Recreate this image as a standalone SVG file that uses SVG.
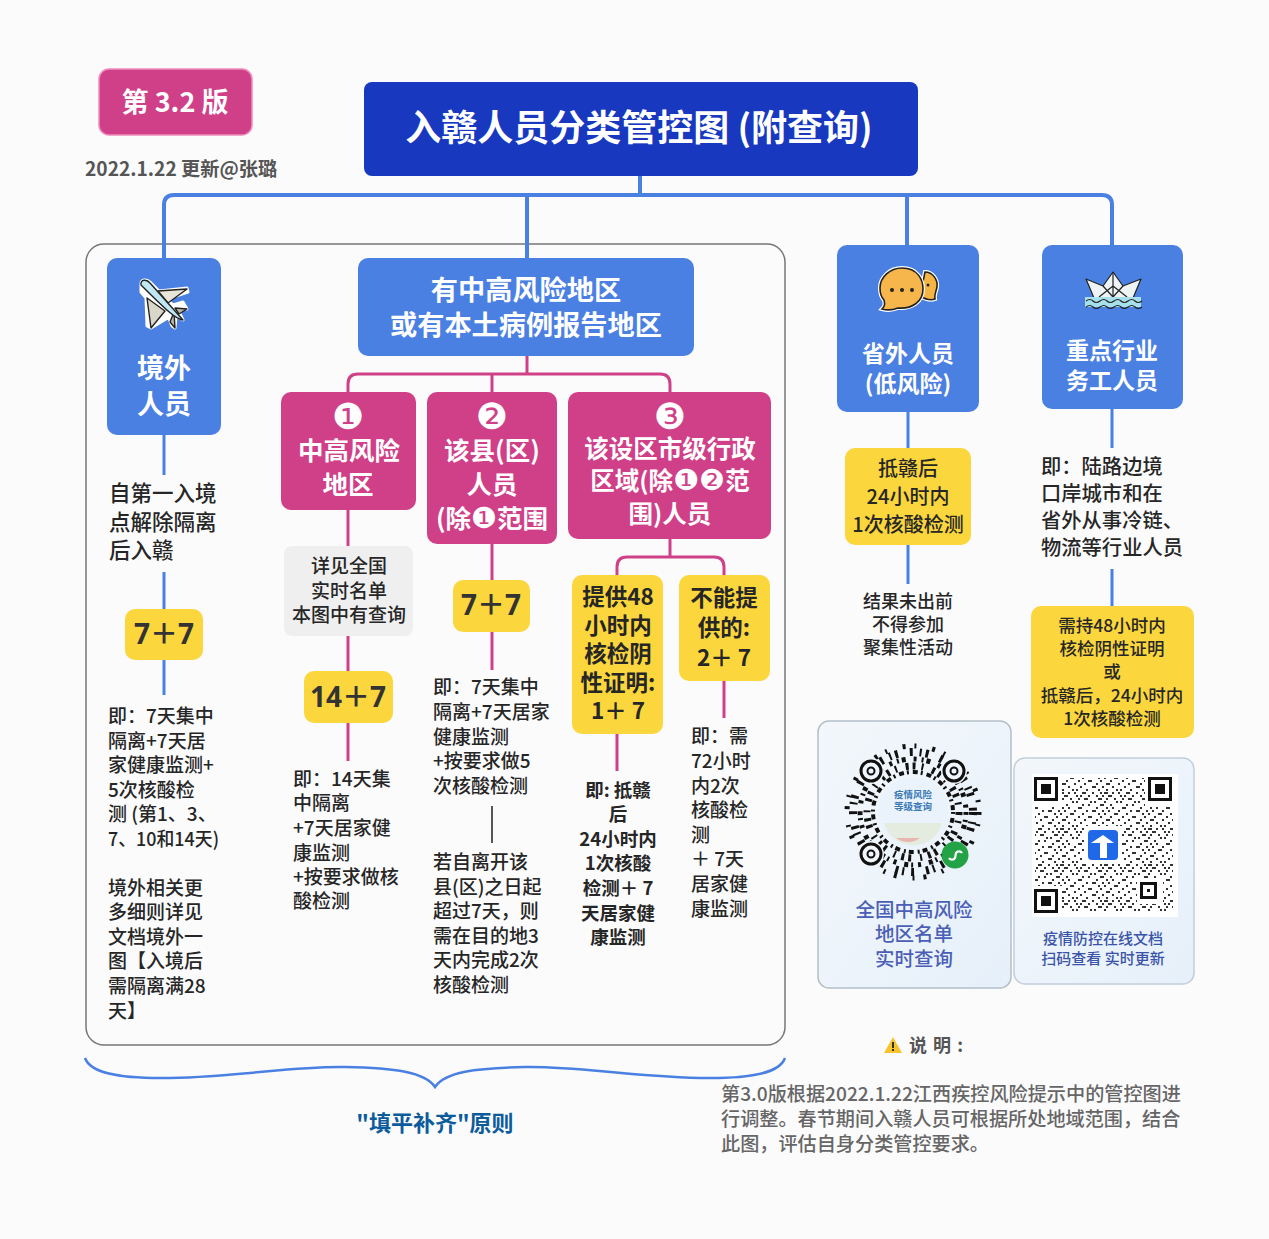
<svg xmlns="http://www.w3.org/2000/svg" width="1269" height="1239" viewBox="0 0 1269 1239">
<style>
text{font-family:"Noto Sans CJK SC","Noto Sans",sans-serif;fill:#262626;font-weight:500}
.c{text-anchor:middle}
.w{fill:#fff;font-weight:700}
.blue{fill:#4b80e3}
.pink{fill:#d04088}
.yel{fill:#fbd63c}
.b{font-size:19px}
.y{font-size:28px;font-weight:700;fill:#333;text-anchor:middle;font-family:"Noto Sans","Noto Sans CJK SC",sans-serif}
.n{font-family:"DejaVu Sans",sans-serif;font-size:36px;fill:#fff;text-anchor:middle;font-weight:400}
.d{font-family:"DejaVu Sans",sans-serif;font-size:29px;fill:#fff;font-weight:400}
.bl{fill:none;stroke:#4b80e3;stroke-width:4}
.pl{fill:none;stroke:#d04088;stroke-width:3}
.r{fill:none;stroke:#111}
.q1t{fill:#4a5fb5;font-size:19.5px;text-anchor:middle}
.q2t{fill:#3a54a8;font-size:15px;text-anchor:middle}
.qc{fill:#3a7ab5;font-weight:700;font-size:9.5px;text-anchor:middle}
.g{fill:#666;font-size:19.15px}
</style>
<defs>
<linearGradient id="card" x1="0" y1="0" x2="1" y2="1"><stop offset="0" stop-color="#f3f7fb"/><stop offset="1" stop-color="#e6f0fa"/></linearGradient>
<pattern id="q1" width="44" height="36" patternUnits="userSpaceOnUse">
<path fill="#333" d="M0 0h2v2H0zM4 0h2v2H4zM6 0h2v2H6zM12 0h2v2h-2zM18 0h2v2h-2zM26 0h2v2h-2zM28 0h2v2h-2zM36 0h2v2h-2zM2 3h2v2H2zM8 3h2v2H8zM10 3h2v2h-2zM20 3h2v2h-2zM24 3h2v2h-2zM32 3h2v2h-2zM40 3h2v2h-2zM0 6h2v2H0zM6 6h2v2H6zM14 6h2v2h-2zM22 6h2v2h-2zM28 6h2v2h-2zM30 6h2v2h-2zM42 6h2v2h-2zM4 9h2v2H4zM16 9h2v2h-2zM20 9h2v2h-2zM34 9h2v2h-2zM38 9h2v2h-2zM0 12h2v2H0zM2 12h2v2H2zM10 12h2v2h-2zM26 12h2v2h-2zM32 12h2v2h-2zM6 15h2v2H6zM12 15h2v2h-2zM22 15h2v2h-2zM24 15h2v2h-2zM40 15h2v2h-2zM2 18h2v2H2zM8 18h2v2H8zM18 18h2v2h-2zM30 18h2v2h-2zM36 18h2v2h-2zM38 18h2v2h-2zM4 21h2v2H4zM14 21h2v2h-2zM16 21h2v2h-2zM26 21h2v2h-2zM42 21h2v2h-2zM0 24h2v2H0zM10 24h2v2h-2zM22 24h2v2h-2zM32 24h2v2h-2zM34 24h2v2h-2zM6 27h2v2H6zM8 27h2v2H8zM18 27h2v2h-2zM28 27h2v2h-2zM40 27h2v2h-2zM2 30h2v2H2zM12 30h2v2h-2zM24 30h2v2h-2zM36 30h2v2h-2zM38 30h2v2h-2zM6 33h2v2H6zM16 33h2v2h-2zM20 33h2v2h-2zM30 33h2v2h-2zM42 33h2v2h-2z"/>
</pattern>
</defs>
<rect width="1269" height="1239" fill="#fbfbfc"/>
<rect id="frame" x="86" y="244" width="699" height="801" rx="18" fill="#fbfbfc" stroke="#777" stroke-width="1.5"/>

<g id="connectors">
<path class="bl" d="M640 176V195M164 258V205Q164 195 174 195H1102Q1112 195 1112 205V245M527 195V258M907 195V245"/>
<path class="bl" style="stroke-width:3" d="M164 435V475M164 572V609M164 660V695M908 412V448M908 545V584M1112 409V448M1112 569V606"/>
<path class="pl" d="M527 356V374M348 392V384Q348 374 358 374H660Q670 374 670 384V392M492 374V392"/>
<path class="pl" d="M348 510V546M348 636V671M348 723V761M492 544V580M492 632V670M670 539V557M617 575V567Q617 557 627 557H714Q724 557 724 567V575M617 734V771M724 681V718"/>
<path d="M492 806V843" stroke="#555" stroke-width="2" fill="none"/>
<path id="brace" d="M85 1058C90 1072 115 1079 170 1078C250 1076 290 1066 345 1067C395 1068 425 1072 435 1087C445 1072 475 1068 525 1067C580 1066 620 1076 700 1078C755 1079 780 1072 785 1058" fill="none" stroke="#4b80e3" stroke-width="2.500"/>
</g>

<g id="version">
<rect x="99" y="69" width="153" height="66" rx="10" class="pink" stroke="#f08cbc" stroke-width="1.5"/>
<text x="175" y="112" class="c w" font-size="27">第 3.2 版</text>
</g>
<text id="update" x="85" y="176" font-size="19.200" style="font-weight:700;fill:#555">2022.1.22 更新@张璐</text>

<g id="title">
<rect x="364" y="82" width="554" height="94" rx="8" fill="#1738bf"/>
<text x="639" y="141" class="c w" font-size="36">入赣人员分类管控图 (附查询)</text>
</g>

<g id="overseas">
<rect x="107" y="258" width="114" height="177" rx="10" class="blue"/>
<g id="plane" stroke="#222" stroke-width="1.4" stroke-linejoin="round">
<path d="M141 284C141 279 147 279 150 282L159 291L187 288L188 292L167 299L173 305L183 302L187 309L178 309L183 320L176 316L175 328L172 326L166 311L171 316L151 328L147 326L146 298L141 292Z" fill="#fff" stroke="#fff" stroke-width="3"/>
<path d="M158 291L187 289L168 303Z" fill="#e8e4d8"/>
<path d="M165 311L151 328L147 298Z" fill="#d9d7c8"/>
<path d="M175 308L187 309L179 314ZM174 312L175 328L170 322Z" fill="#b9b8a8"/>
<path d="M141 285C140 279 147 279 150 283L183 320C176 319 168 312 141 285Z" fill="#bfe8f2"/>
</g>
<text x="164" y="378" class="c w" font-size="27">境外</text>
<text x="164" y="414" class="c w" font-size="27">人员</text>
</g>

<g id="overseas-text">
<text x="109" y="501" font-size="21.500">自第一入境</text>
<text x="109" y="530" font-size="21.500">点解除隔离</text>
<text x="109" y="558" font-size="21.500">后入赣</text>
<rect x="125" y="609" width="78" height="51" rx="10" class="yel"/>
<text x="164" y="644" class="y">7＋7</text>
<g class="b">
<text x="108" y="723">即：7天集中</text>
<text x="108" y="748">隔离+7天居</text>
<text x="108" y="772">家健康监测+</text>
<text x="108" y="797">5次核酸检</text>
<text x="108" y="821">测 (第1、3、</text>
<text x="108" y="846" textLength="111" lengthAdjust="spacingAndGlyphs">7、10和14天)</text>
<text x="108" y="895">境外相关更</text>
<text x="108" y="919">多细则详见</text>
<text x="108" y="944">文档境外一</text>
<text x="108" y="968">图【入境后</text>
<text x="108" y="993">需隔离满28</text>
<text x="108" y="1018">天】</text>
</g>
</g>

<g id="risk-area">
<rect x="358" y="258" width="336" height="98" rx="10" class="blue"/>
<text x="526" y="300" class="c w" font-size="27.200">有中高风险地区</text>
<text x="526" y="335" class="c w" font-size="27.200">或有本土病例报告地区</text>
</g>

<g id="case1">
<rect x="281" y="392" width="135" height="118" rx="10" class="pink"/>
<text x="348" y="429" class="n">❶</text>
<text x="349" y="460" class="c w" font-size="25.500">中高风险</text>
<text x="348" y="494" class="c w" font-size="25.500">地区</text>
</g>
<g id="case1-list">
<rect x="284" y="546" width="129" height="90" rx="8" fill="#efefef"/>
<text x="349" y="573" class="c" font-size="19">详见全国</text>
<text x="349" y="598" class="c" font-size="19">实时名单</text>
<text x="349" y="622" class="c" font-size="19">本图中有查询</text>
</g>
<g id="case1-rule">
<rect x="304" y="671" width="89" height="52" rx="10" class="yel"/>
<text x="348" y="707" class="y">14＋7</text>
<g class="b">
<text x="293" y="786">即：14天集</text>
<text x="293" y="810">中隔离</text>
<text x="293" y="835">+7天居家健</text>
<text x="293" y="860">康监测</text>
<text x="293" y="884">+按要求做核</text>
<text x="293" y="908">酸检测</text>
</g>
</g>

<g id="case2">
<rect x="427" y="392" width="130" height="152" rx="10" class="pink"/>
<text x="492" y="429" class="n">❷</text>
<text x="492" y="460" class="c w" font-size="25.500">该县(区)</text>
<text x="492" y="494" class="c w" font-size="25.500">人员</text>
<text x="492" y="528" class="c w" font-size="25.500">(除<tspan class="d">❶</tspan>范围</text>
</g>
<g id="case2-rule">
<rect x="453" y="580" width="77" height="52" rx="10" class="yel"/>
<text x="491" y="615" class="y">7＋7</text>
<g class="b">
<text x="433" y="694">即：7天集中</text>
<text x="433" y="719">隔离+7天居家</text>
<text x="433" y="744">健康监测</text>
<text x="433" y="768">+按要求做5</text>
<text x="433" y="793">次核酸检测</text>
<text x="433" y="869">若自离开该</text>
<text x="433" y="894">县(区)之日起</text>
<text x="433" y="918">超过7天，则</text>
<text x="433" y="943">需在目的地3</text>
<text x="433" y="967">天内完成2次</text>
<text x="433" y="992">核酸检测</text>
</g>
</g>

<g id="case3">
<rect x="568" y="392" width="203" height="147" rx="10" class="pink"/>
<text x="670" y="429" class="n">❸</text>
<text x="670" y="458" class="c w" font-size="24.500">该设区市级行政</text>
<text x="670" y="490" class="c w" font-size="24.500">区域(除<tspan class="d">❶❷</tspan>范</text>
<text x="670" y="523" class="c w" font-size="24.500">围)人员</text>
</g>
<g id="case3a">
<rect x="572" y="575" width="91" height="159" rx="10" class="yel"/>
<g font-size="22.500" class="c" style="font-weight:700">
<text x="618" y="605" style="font-weight:700">提供48</text>
<text x="618" y="634" style="font-weight:700">小时内</text>
<text x="618" y="662" style="font-weight:700">核检阴</text>
<text x="618" y="691" style="font-weight:700">性证明:</text>
<text x="618" y="719" style="font-weight:700">1＋ 7</text>
</g>
<g class="c" font-size="18.500">
<text x="618" y="797" style="font-weight:700">即: 抵赣</text>
<text x="618" y="821" style="font-weight:700">后</text>
<text x="618" y="846" style="font-weight:700">24小时内</text>
<text x="618" y="870" style="font-weight:700">1次核酸</text>
<text x="618" y="895" style="font-weight:700">检测＋ 7</text>
<text x="618" y="920" style="font-weight:700">天居家健</text>
<text x="618" y="944" style="font-weight:700">康监测</text>
</g>
</g>
<g id="case3b">
<rect x="679" y="575" width="91" height="106" rx="10" class="yel"/>
<g font-size="22.500" class="c">
<text x="724" y="606" style="font-weight:700">不能提</text>
<text x="724" y="636" style="font-weight:700">供的:</text>
<text x="724" y="666" style="font-weight:700">2＋ 7</text>
</g>
<g class="b">
<text x="691" y="743">即：需</text>
<text x="691" y="768">72小时</text>
<text x="691" y="793">内2次</text>
<text x="691" y="817">核酸检</text>
<text x="691" y="842">测</text>
<text x="691" y="866">＋ 7天</text>
<text x="691" y="891">居家健</text>
<text x="691" y="916">康监测</text>
</g>
</g>

<g id="outside">
<rect x="837" y="245" width="142" height="167" rx="10" class="blue"/>
<g id="chat" stroke="#222" stroke-width="1.6">
<path d="M925 272C933 272 938 280 937 287C936 292 934 295 935 299C930 301 925 299 920 296Z" fill="#f4b544" stroke="#fff" stroke-width="4"/>
<path d="M925 272C933 272 938 280 937 287C936 292 934 295 935 299C930 301 925 299 920 296Z" fill="#f4b544"/>
<path d="M902 268C918 268 923 280 923 289C923 302 912 309 898 308C893 310 889 311 882 309C885 306 885 304 884 300C880 296 880 292 880 288C880 277 890 268 902 268Z" fill="#f7b64b" stroke="#fff" stroke-width="4"/>
<path d="M902 268C918 268 923 280 923 289C923 302 912 309 898 308C893 310 889 311 882 309C885 306 885 304 884 300C880 296 880 292 880 288C880 277 890 268 902 268Z" fill="#f7b64b"/>
<circle cx="892" cy="290" r="2" fill="#222" stroke="none"/><circle cx="902" cy="290" r="2" fill="#222" stroke="none"/><circle cx="912" cy="290" r="2" fill="#222" stroke="none"/><circle cx="928" cy="285" r="1.500" fill="#222" stroke="none"/>
</g>
<text x="908" y="362" class="c w" font-size="23">省外人员</text>
<text x="908" y="392" class="c w" font-size="23">(低风险)</text>
</g>
<g id="outside-rule">
<rect x="845" y="448" width="126" height="97" rx="10" class="yel"/>
<g class="c" font-size="20">
<text x="908" y="476">抵赣后</text>
<text x="908" y="504">24小时内</text>
<text x="908" y="532">1次核酸检测</text>
</g>
<g class="c" font-size="18">
<text x="908" y="608">结果未出前</text>
<text x="908" y="631">不得参加</text>
<text x="908" y="654">聚集性活动</text>
</g>
</g>

<g id="industry">
<rect x="1042" y="245" width="141" height="164" rx="10" class="blue"/>
<g id="ship" stroke="#222" stroke-width="1.2" stroke-linejoin="round">
<path d="M1086 279L1103 286L1113 272L1123 286L1141 279L1133 298H1094Z" fill="#eef3f3"/>
<path d="M1103 286L1113 297L1123 286M1113 272V297M1099 297L1113 286L1127 297" fill="none"/>
<rect x="1085" y="297" width="56" height="10" fill="#a6e0ea" stroke="none"/>
<path d="M1086 301q4-3 7 0t7 0t7 0t7 0t7 0t7 0t7 0t7 0M1086 307q4-3 7 0t7 0t7 0t7 0t7 0t7 0t7 0t7 0" fill="none"/>
</g>
<text x="1112" y="359" class="c w" font-size="23">重点行业</text>
<text x="1112" y="389" class="c w" font-size="23">务工人员</text>
</g>
<g id="industry-rule" font-size="20.300">
<text x="1041" y="474">即：陆路边境</text>
<text x="1041" y="501">口岸城市和在</text>
<text x="1041" y="528">省外从事冷链、</text>
<text x="1041" y="555">物流等行业人员</text>
<rect x="1031" y="606" width="163" height="132" rx="10" class="yel"/>
<g class="c" font-size="17.500">
<text x="1112" y="632">需持48小时内</text>
<text x="1112" y="655">核检阴性证明</text>
<text x="1112" y="678">或</text>
<text x="1112" y="702">抵赣后，24小时内</text>
<text x="1112" y="725">1次核酸检测</text>
</g>
</g>

<g id="qr-list">
<rect x="818" y="721" width="193" height="267" rx="11" fill="url(#card)" stroke="#b4bfc9" stroke-width="1.5"/>
<g class="r">
<circle cx="913" cy="812" r="40" stroke-width="4" stroke-dasharray="2 4 5 3"/>
<circle cx="913" cy="812" r="46" stroke-width="7" stroke-dasharray="3 6 2 9 3 4"/>
<circle cx="913" cy="812" r="53" stroke-width="5" stroke-dasharray="3 5 2 3 4 8"/>
<circle cx="913" cy="812" r="60" stroke-width="8" stroke-dasharray="3 7 2 4 3 12"/>
<circle cx="913" cy="812" r="66" stroke-width="5" stroke-dasharray="3 9 2 16"/>
</g>
<circle cx="913" cy="812" r="35" fill="#eaf3fb"/>
<path d="M884 823h58a30 30 0 0 1-58 0Z" fill="#e3ecdf"/>
<path d="M896 838h24a20 20 0 0 1-24 0Z" fill="#e8b6b0"/>
<text x="913" y="798" class="qc">疫情风险</text>
<text x="913" y="810" class="qc">等级查询</text>
<g fill="#f0f6fb" stroke="#111">
<circle cx="871" cy="771" r="13" stroke="none"/><circle cx="954" cy="771" r="13" stroke="none"/><circle cx="871" cy="854" r="13" stroke="none"/>
<circle cx="871" cy="771" r="10" fill="none" stroke-width="3"/><circle cx="871" cy="771" r="3.500" fill="none" stroke-width="2"/>
<circle cx="954" cy="771" r="10" fill="none" stroke-width="3"/><circle cx="954" cy="771" r="3.500" fill="none" stroke-width="2"/>
<circle cx="871" cy="854" r="10" fill="none" stroke-width="3"/><circle cx="871" cy="854" r="3.500" fill="none" stroke-width="2"/>
</g>
<circle cx="955" cy="855" r="13.500" fill="#23a246"/>
<path d="M949 858a3.500 3.500 0 0 0 6 0l1-5a3.500 3.500 0 0 1 6 0M955 858" fill="none" stroke="#fff" stroke-width="2.200"/>
<text x="914" y="917" class="q1t">全国中高风险</text>
<text x="914" y="941" class="q1t">地区名单</text>
<text x="914" y="966" class="q1t">实时查询</text>
</g>

<g id="qr-doc">
<rect x="1014" y="758" width="180" height="226" rx="11" fill="url(#card)" stroke="#c3cedb" stroke-width="1.5"/>
<rect x="1032" y="774" width="146" height="143" fill="#fff"/>
<rect x="1035" y="778" width="138" height="134" fill="url(#q1)"/>
<g fill="#fff"><rect x="1032" y="776" width="30" height="30"/><rect x="1145" y="776" width="30" height="30"/><rect x="1032" y="886" width="30" height="30"/><rect x="1137" y="878" width="26" height="26"/><rect x="1084" y="826" width="38" height="38"/></g>
<g fill="none" stroke="#111" stroke-width="3"><rect x="1035.500" y="778.500" width="21" height="21"/><rect x="1149.500" y="778.500" width="21" height="21"/><rect x="1035.500" y="890.500" width="21" height="21"/><rect x="1141.500" y="883.500" width="14" height="14"/></g>
<g fill="#111"><rect x="1041" y="784" width="10" height="10"/><rect x="1155" y="784" width="10" height="10"/><rect x="1041" y="896" width="10" height="10"/><rect x="1147" y="889" width="3" height="3"/></g>
<rect x="1088" y="830" width="30" height="30" rx="4" fill="#1f68e8"/>
<path d="M1091 843L1103 835L1114 843H1107V858H1100V843Z" fill="#fff"/>
<text x="1103" y="944" class="q2t">疫情防控在线文档</text>
<text x="1103" y="964" class="q2t">扫码查看 实时更新</text>
</g>

<g id="principle">
<text x="435" y="1131" class="c" font-size="22" style="fill:#0c5c9c;font-weight:700">"填平补齐"原则</text>
</g>

<g id="note">
<path d="M893 1037L902 1053H884Z" fill="#f7c52b"/>
<rect x="892" y="1042" width="2" height="6" fill="#333"/><rect x="892" y="1049" width="2" height="2" fill="#333"/>
<text x="909" y="1052" font-size="18" letter-spacing="1" style="fill:#555;font-weight:700">说 明 :</text>
<text x="721" y="1101" class="g">第3.0版根据2022.1.22江西疾控风险提示中的管控图进</text>
<text x="721" y="1126" class="g">行调整。春节期间入赣人员可根据所处地域范围，结合</text>
<text x="721" y="1151" class="g">此图，评估自身分类管控要求。</text>
</g>
</svg>
